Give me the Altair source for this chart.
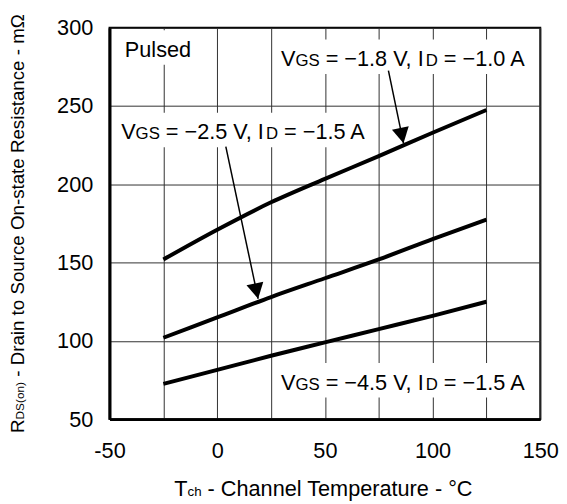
import math
import altair as alt
import pandas as pd

# ---------------- data ----------------
temps = [-25, 0, 25, 50, 75, 100, 125]
r_vgs18 = [152, 171, 188.5, 203.5, 218, 233, 247.5]
r_vgs25 = [102, 115, 128, 140, 152, 165, 177.5]
r_vgs45 = [72.5, 81.5, 90.5, 99, 107.5, 116, 125]
series_names = ["VGS=-1.8V", "VGS=-2.5V", "VGS=-4.5V"]

x_ticks = [-50, -25, 0, 25, 50, 75, 100, 125, 150]
y_ticks = [50, 100, 150, 200, 250, 300]

# annotation anchors (data units: left edge / baseline)
label_x = [-42.9, 29.6, -44.6, 29.6]
label_y = [281.4, 275.6, 228.7, 68.8]
# arrows: tail -> tip (data units)
arrow_tail_x = [79.5, 4.0]
arrow_tail_y = [272.6, 224.1]
arrow_tip_x = [86.5, 19.0]
arrow_tip_y = [226.2, 126.9]

# ---------------- layout ----------------
W, H = 437, 397
XMIN, XMAX, YMIN, YMAX = -50, 150, 50, 300
FONT = "Liberation Sans"
M, S = 22, 17

WID = {' ': 278, '(': 333, ')': 333, ',': 278, '-': 333, '.': 278, '=': 584,
       '°': 400, '−': 584, 'Ω': 768}
for d in "0123456789":
    WID[d] = 556
WID.update(dict(zip("ABCDEFGHIJKLMNOPQRSTUVWXYZ",
                    [667, 667, 722, 722, 667, 611, 778, 722, 278, 500, 667, 556, 833,
                     722, 778, 667, 778, 722, 667, 611, 722, 667, 944, 667, 667, 611])))
WID.update(dict(zip("abcdefghijklmnopqrstuvwxyz",
                    [556, 556, 500, 556, 556, 278, 556, 556, 222, 222, 500, 222, 833,
                     556, 556, 556, 556, 333, 500, 278, 556, 500, 722, 500, 500, 500])))


def tw(txt, size):
    return sum(WID.get(c, 556) for c in txt) * size / 1000.0


def rich(parts, data, xenc, yenc, angle=0):
    layers, off = [], 0.0
    for txt, size in parts:
        body = txt.lstrip(" ")
        off += tw(txt[: len(txt) - len(body)], size)
        kw = dict(text=body, fontSize=size, font=FONT, align="left",
                  baseline="alphabetic", color="black", dx=off)
        if angle:
            kw["angle"] = angle
        layers.append(alt.Chart(data).mark_text(**kw).encode(x=xenc, y=yenc))
        off += tw(body, size)
    return layers, off


xscale = alt.Scale(domain=[XMIN, XMAX], nice=False, zero=False)
yscale = alt.Scale(domain=[YMIN, YMAX], nice=False, zero=False)
common_axis = dict(grid=True, gridColor="#303030", gridWidth=1, ticks=False, tickSize=0,
                   domainColor="black", domainWidth=3, labelFontSize=22, labelFont=FONT,
                   labelColor="black", title=None, labelFlush=False, labelOverlap=False)
xaxis = alt.Axis(values=x_ticks, labelPadding=22,
                 labelExpr="datum.value % 50 == 0 ? '' + datum.value : ''", **common_axis)
yaxis = alt.Axis(values=y_ticks, labelPadding=17, format="d", **common_axis)

curve_df = pd.DataFrame({
    "x": temps * 3,
    "y": r_vgs18 + r_vgs25 + r_vgs45,
    "s": [series_names[0]] * 7 + [series_names[1]] * 7 + [series_names[2]] * 7,
})

curves = alt.Chart(curve_df).mark_line(color="black", strokeWidth=4, interpolate="monotone",
                                       strokeCap="butt").encode(
    x=alt.X("x:Q", scale=xscale, axis=xaxis, title=None),
    y=alt.Y("y:Q", scale=yscale, axis=yaxis, title=None),
    detail="s:N",
)

# ---------------- annotations ----------------
label_parts = [
    [("Pulsed", M)],
    [("V", M), ("GS", S), (" = −1.8 V, I", M), ("D", S), (" = −1.0 A", M)],
    [("V", M), ("GS", S), (" = −2.5 V, I", M), ("D", S), (" = −1.5 A", M)],
    [("V", M), ("GS", S), (" = −4.5 V, I", M), ("D", S), (" = −1.5 A", M)],
]

bg_layers, text_layers = [], []
for i, parts in enumerate(label_parts):
    d = pd.DataFrame({"x": [label_x[i]], "y": [label_y[i]]})
    xe = alt.X("x:Q", title=None)
    ye = alt.Y("y:Q", title=None)
    lays, width = rich(parts, d, xe, ye)
    text_layers += lays
    bg_layers.append(alt.Chart(d).mark_rect(color="white", xOffset=-6, x2Offset=width + 6,
                                            yOffset=-27, y2Offset=8).encode(
        x=xe, x2="x", y=ye, y2="y"))

pxx = W / (XMAX - XMIN)
pxy = H / (YMAX - YMIN)
arrow_df = pd.DataFrame({"x": arrow_tail_x, "y": arrow_tail_y,
                         "x2": arrow_tip_x, "y2": arrow_tip_y})
arrow_df["ang"] = [
    (math.degrees(math.atan2(-(arrow_tip_x[i] - arrow_tail_x[i]) * pxx,
                             (arrow_tail_y[i] - arrow_tip_y[i]) * pxy)) + 360) % 360
    for i in range(len(arrow_tail_x))
]
arrow_lines = alt.Chart(arrow_df).mark_rule(color="black", strokeWidth=1.5).encode(
    x=alt.X("x:Q", title=None), y=alt.Y("y:Q", title=None), x2="x2:Q", y2="y2:Q")
arrow_heads = alt.Chart(arrow_df).mark_point(
    shape="M0,0L-0.55,-1L0.55,-1Z", filled=True, size=1000, color="black",
    opacity=1, strokeWidth=0).encode(
    x=alt.X("x2:Q", title=None), y=alt.Y("y2:Q", title=None),
    angle=alt.Angle("ang:Q", scale=None))

# axis titles (rich text with subscripts)
one = pd.DataFrame({"k": [0]})
xt_layers, _ = rich([("T", M), ("ch", 13.5), (" - Channel Temperature - °C", M)],
                    one, alt.value(65.7), alt.value(474.8))
yt_layers, _ = rich([("R", 19), ("DS(on)", 12),
                     (" - Drain to Source On-state Resistance - mΩ", 19)],
                    one, alt.value(-87), alt.value(411), angle=270)

chart = alt.layer(curves, *bg_layers, arrow_lines, arrow_heads, *text_layers,
                  *xt_layers, *yt_layers).properties(
    width=W, height=H,
    autosize=alt.AutoSizeParams(type="none"),
    padding={"left": 103, "top": 16.5, "right": 19, "bottom": 82.5},
).configure_view(stroke="black", strokeWidth=2)

chart.save("out.html", embed_options={"renderer": "svg", "actions": False})
